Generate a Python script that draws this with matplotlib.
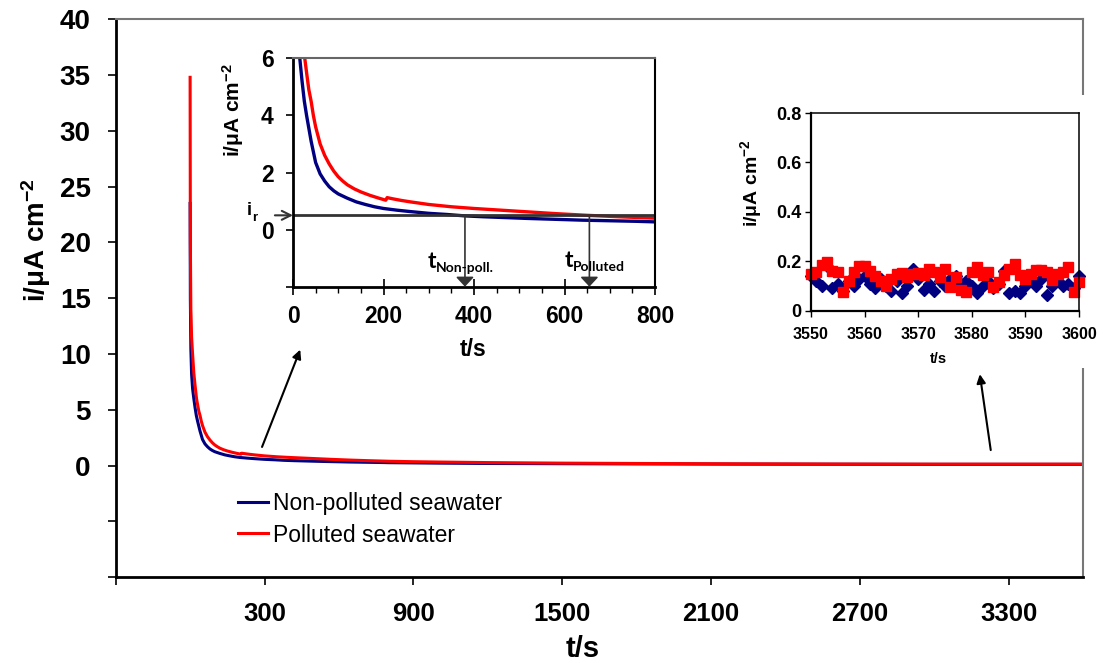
import matplotlib
matplotlib.use('Agg')
import matplotlib.pyplot as plt
from matplotlib.patches import Rectangle
from matplotlib.ticker import MultipleLocator

plt.rcParams['font.family'] = ['Liberation Sans', 'DejaVu Sans']
plt.rcParams['mathtext.fontset'] = 'custom'
plt.rcParams['mathtext.rm'] = 'Liberation Sans:bold'
plt.rcParams['mathtext.it'] = 'Liberation Sans:bold'
plt.rcParams['mathtext.bf'] = 'Liberation Sans:bold'
plt.rcParams['mathtext.default'] = 'rm'

# ---------------- data ----------------
t_nonpolluted = [0, 1, 3, 6, 10, 15, 20, 25, 30, 40, 50, 60, 70, 80, 90, 100, 120, 140,
                 160, 180, 200, 230, 260, 300, 340, 380, 420, 470, 520, 580, 640, 700,
                 760, 800, 900, 1000, 1200, 1500, 1800, 2200, 2600, 3000, 3300, 3600]
i_nonpolluted = [23.5, 15.0, 10.5, 8.2, 6.9, 6.0, 5.2, 4.5, 4.0, 3.1, 2.35, 1.95, 1.7, 1.5,
                 1.36, 1.25, 1.1, 0.97, 0.88, 0.8, 0.74, 0.68, 0.63, 0.57, 0.53, 0.48, 0.45,
                 0.42, 0.39, 0.36, 0.33, 0.31, 0.29, 0.27, 0.25, 0.23, 0.2, 0.18, 0.16, 0.14,
                 0.13, 0.12, 0.12, 0.12]

t_polluted = [0, 1, 3, 6, 10, 15, 20, 26, 30, 35, 40, 45, 50, 60, 70, 80, 90, 100, 110, 120,
              135, 150, 170, 190, 205, 208, 220, 240, 260, 300, 350, 400, 460, 520, 580, 650,
              720, 800, 900, 1000, 1200, 1500, 1800, 2200, 2600, 3000, 3300, 3600]
i_polluted = [34.8, 20.0, 14.0, 11.5, 10.0, 8.3, 7.2, 6.0, 5.5, 4.9, 4.5, 4.0, 3.6, 3.0, 2.6,
              2.3, 2.05, 1.85, 1.7, 1.57, 1.43, 1.32, 1.2, 1.1, 1.03, 1.12, 1.08, 1.02, 0.97,
              0.88, 0.8, 0.74, 0.68, 0.62, 0.56, 0.5, 0.45, 0.4, 0.36, 0.33, 0.28, 0.23, 0.2,
              0.17, 0.15, 0.14, 0.14, 0.14]

t_zoom = list(range(3550, 3601))
i_zoom_nonpolluted = [0.14, 0.12, 0.10, 0.18, 0.09, 0.11, 0.08, 0.12, 0.10, 0.13, 0.14, 0.11,
                      0.09, 0.13, 0.10, 0.08, 0.12, 0.07, 0.10, 0.17, 0.13, 0.085, 0.11, 0.08,
                      0.12, 0.10, 0.13, 0.14, 0.11, 0.12, 0.10, 0.07, 0.10, 0.12, 0.09, 0.11,
                      0.16, 0.07, 0.08, 0.07, 0.10, 0.12, 0.10, 0.13, 0.065, 0.10, 0.12, 0.10,
                      0.11, 0.09, 0.14]
i_zoom_polluted = [0.15, 0.157, 0.184, 0.197, 0.16, 0.157, 0.077, 0.12, 0.157, 0.18, 0.18,
                   0.16, 0.14, 0.12, 0.10, 0.13, 0.15, 0.153, 0.137, 0.15, 0.153, 0.144, 0.17,
                   0.157, 0.137, 0.17, 0.097, 0.137, 0.083, 0.077, 0.157, 0.177, 0.144, 0.157,
                   0.097, 0.117, 0.144, 0.17, 0.19, 0.144, 0.13, 0.15, 0.163, 0.163, 0.157,
                   0.124, 0.15, 0.157, 0.177, 0.077, 0.117]

main_xticks = [-300, 300, 900, 1500, 2100, 2700, 3300]
main_yticks = [-10, -5, 0, 5, 10, 15, 20, 25, 30, 35, 40]
inset_xticks = [0, 200, 400, 600, 800]
inset_yticks = [-2, 0, 2, 4, 6]
zoom_xticks = [3550, 3560, 3570, 3580, 3590, 3600]
zoom_yticks = [0, 0.2, 0.4, 0.6, 0.8]
i_r_level = 0.5
t_nonpoll_mark = 380
t_poll_mark = 655

BLUE = '#000080'
RED = '#FF0000'
YLAB = 'i/\u03bcA cm$^{-2}$'

W, H = 1102, 666
fig = plt.figure(figsize=(W / 100, H / 100), dpi=100)


def fx(px):
    return px / W


def fy(py):
    return 1 - py / H


# ---------------- main axes ----------------
ax = fig.add_axes([fx(115.7), fy(577.3), fx(1083) - fx(115.7), fy(19.3) - fy(577.3)], zorder=0)
ax.plot(t_nonpolluted, i_nonpolluted, color=BLUE, lw=2.2, label='Non-polluted seawater')
ax.plot(t_polluted, i_polluted, color=RED, lw=2.2, label='Polluted seawater')
ax.set_xlim(-300, 3600)
ax.set_ylim(-10, 40)
ax.set_xticks(main_xticks)
ax.set_xticklabels(['' if v < 0 else str(v) for v in main_xticks])
ax.set_yticks(main_yticks)
ax.set_yticklabels(['' if v < 0 else str(v) for v in main_yticks])
ax.tick_params(axis='both', direction='out', length=6, width=1.2, pad=12)
ax.tick_params(axis='x', labelsize=18.5)
ax.tick_params(axis='y', labelsize=20)
for lab in ax.get_xticklabels() + ax.get_yticklabels():
    lab.set_fontweight('bold')
ax.spines['left'].set_linewidth(2)
ax.spines['bottom'].set_linewidth(2)
for s in ('top', 'right'):
    ax.spines[s].set_color('#777777')
    ax.spines[s].set_linewidth(1.5)
ax.set_xlabel('t/s', fontsize=21, fontweight='bold', va='top')
ax.xaxis.set_label_coords(0.483, -0.103)
ax.set_ylabel(YLAB, fontsize=20, fontweight='bold', va='center')
ax.yaxis.set_label_coords(-0.082, 0.605)
leg = ax.legend(loc='upper left', bbox_to_anchor=(0.1264, 0.152), frameon=False, fontsize=16.5,
                handlelength=1.3, handletextpad=0.25, labelspacing=0.35, borderpad=0,
                borderaxespad=0)
ax.annotate('', xy=(444, 10.4), xytext=(290, 1.68),
            arrowprops=dict(arrowstyle='-|>', color='black', lw=1.5, mutation_scale=13,
                            shrinkA=0, shrinkB=0))
ax.annotate('', xy=(3184, 8.2), xytext=(3228, 1.4),
            arrowprops=dict(arrowstyle='-|>', color='black', lw=1.5, mutation_scale=13,
                            shrinkA=0, shrinkB=0))

# white panel behind the right inset (covers the main frame there)
fig.add_artist(Rectangle((fx(738), fy(368)), fx(1100) - fx(738), fy(95) - fy(368),
                         transform=fig.transFigure, facecolor='white', edgecolor='none',
                         zorder=0.5))

# ---------------- left inset ----------------
ax1 = fig.add_axes([fx(293), fy(286.7), fx(655) - fx(293), fy(58.3) - fy(286.7)], zorder=1)
ax1.plot(t_nonpolluted, i_nonpolluted, color=BLUE, lw=2.4)
ax1.plot(t_polluted, i_polluted, color=RED, lw=2.4)
ax1.set_xlim(0, 800)
ax1.set_ylim(-2, 6)
ax1.set_xticks(inset_xticks)
ax1.xaxis.set_minor_locator(MultipleLocator(50))
ax1.set_yticks(inset_yticks)
ax1.set_yticklabels(['' if v < 0 else str(v) for v in inset_yticks])
ax1.tick_params(axis='x', which='major', direction='inout', length=12, width=1.2,
                labelsize=16.5, pad=7)
ax1.tick_params(axis='x', which='minor', direction='out', length=4, width=1.0)
ax1.tick_params(axis='y', direction='out', length=5, width=1.2, labelsize=16.5, pad=9)
for lab in ax1.get_xticklabels() + ax1.get_yticklabels():
    lab.set_fontweight('bold')
ax1.spines['left'].set_linewidth(2)
ax1.spines['bottom'].set_linewidth(2)
ax1.spines['top'].set_color('#666666')
ax1.spines['top'].set_linewidth(1.5)
ax1.spines['right'].set_linewidth(1.5)
ax1.set_xlabel('t/s', fontsize=16.5, fontweight='bold', va='top')
ax1.xaxis.set_label_coords(0.497, -0.225)
ax1.set_ylabel(YLAB, fontsize=15, fontweight='bold', va='center')
ax1.yaxis.set_label_coords(-0.166, 0.774)

ax1.axhline(i_r_level, color='#333333', lw=2)
ax1.annotate('', xy=(0, i_r_level), xytext=(-40, i_r_level), annotation_clip=False,
             arrowprops=dict(arrowstyle='->', color='#333333', lw=1.5, mutation_scale=16,
                             shrinkA=0, shrinkB=0))
ax1.text(-101.7, i_r_level, 'i', fontsize=13, fontweight='bold', ha='left', va='baseline',
         clip_on=False)
ax1.text(-90, 0.3, 'r', fontsize=9.5, fontweight='bold', ha='left', va='baseline',
         clip_on=False)
for tm in (t_nonpoll_mark, t_poll_mark):
    ax1.annotate('', xy=(tm, -2), xytext=(tm, i_r_level),
                 arrowprops=dict(arrowstyle='-|>,head_length=0.29,head_width=0.27',
                                 color='#333333', lw=1.2, mutation_scale=20,
                                 shrinkA=0, shrinkB=0))
ax1.text(298, -1.36, 't', fontfamily='Lato', fontweight='bold', fontsize=16.5, ha='left',
         va='baseline')
ax1.text(316, -1.5, 'Non-poll.', fontfamily='Lato', fontweight='bold', fontsize=10,
         ha='left', va='baseline')
ax1.text(601, -1.31, 't', fontfamily='Lato', fontweight='bold', fontsize=16.5, ha='left',
         va='baseline')
ax1.text(619, -1.45, 'Polluted', fontfamily='Lato', fontweight='bold', fontsize=10,
         ha='left', va='baseline')

# ---------------- right inset ----------------
ax2 = fig.add_axes([fx(811), fy(310.7), fx(1079) - fx(811), fy(113) - fy(310.7)], zorder=1)
ax2.plot(t_zoom, i_zoom_nonpolluted, ls='none', marker='D', ms=6, color=BLUE, mec=BLUE,
         clip_on=False)
ax2.plot(t_zoom, i_zoom_polluted, ls='none', marker='s', ms=7, color=RED, mec=RED,
         clip_on=False)
ax2.set_xlim(3550, 3600)
ax2.set_ylim(0, 0.8)
ax2.set_xticks(zoom_xticks)
ax2.set_yticks(zoom_yticks)
ax2.set_yticklabels(['0' if v == 0 else f'{v:.1f}' for v in zoom_yticks])
ax2.tick_params(axis='both', direction='out', length=4, width=1.0)
ax2.tick_params(axis='x', pad=8, labelsize=11.5)
ax2.tick_params(axis='y', pad=3, labelsize=13)
for lab in ax2.get_xticklabels() + ax2.get_yticklabels():
    lab.set_fontweight('bold')
for s in ax2.spines.values():
    s.set_linewidth(1.1)
ax2.spines['left'].set_linewidth(1.6)
ax2.spines['bottom'].set_linewidth(1.6)
ax2.set_xlabel('t/s', fontsize=10.5, fontweight='bold', va='top')
ax2.xaxis.set_label_coords(0.474, -0.209)
ax2.set_ylabel(YLAB, fontsize=14, fontweight='bold', va='center')
ax2.yaxis.set_label_coords(-0.225, 0.646)

fig.savefig('out.png', dpi=100)
